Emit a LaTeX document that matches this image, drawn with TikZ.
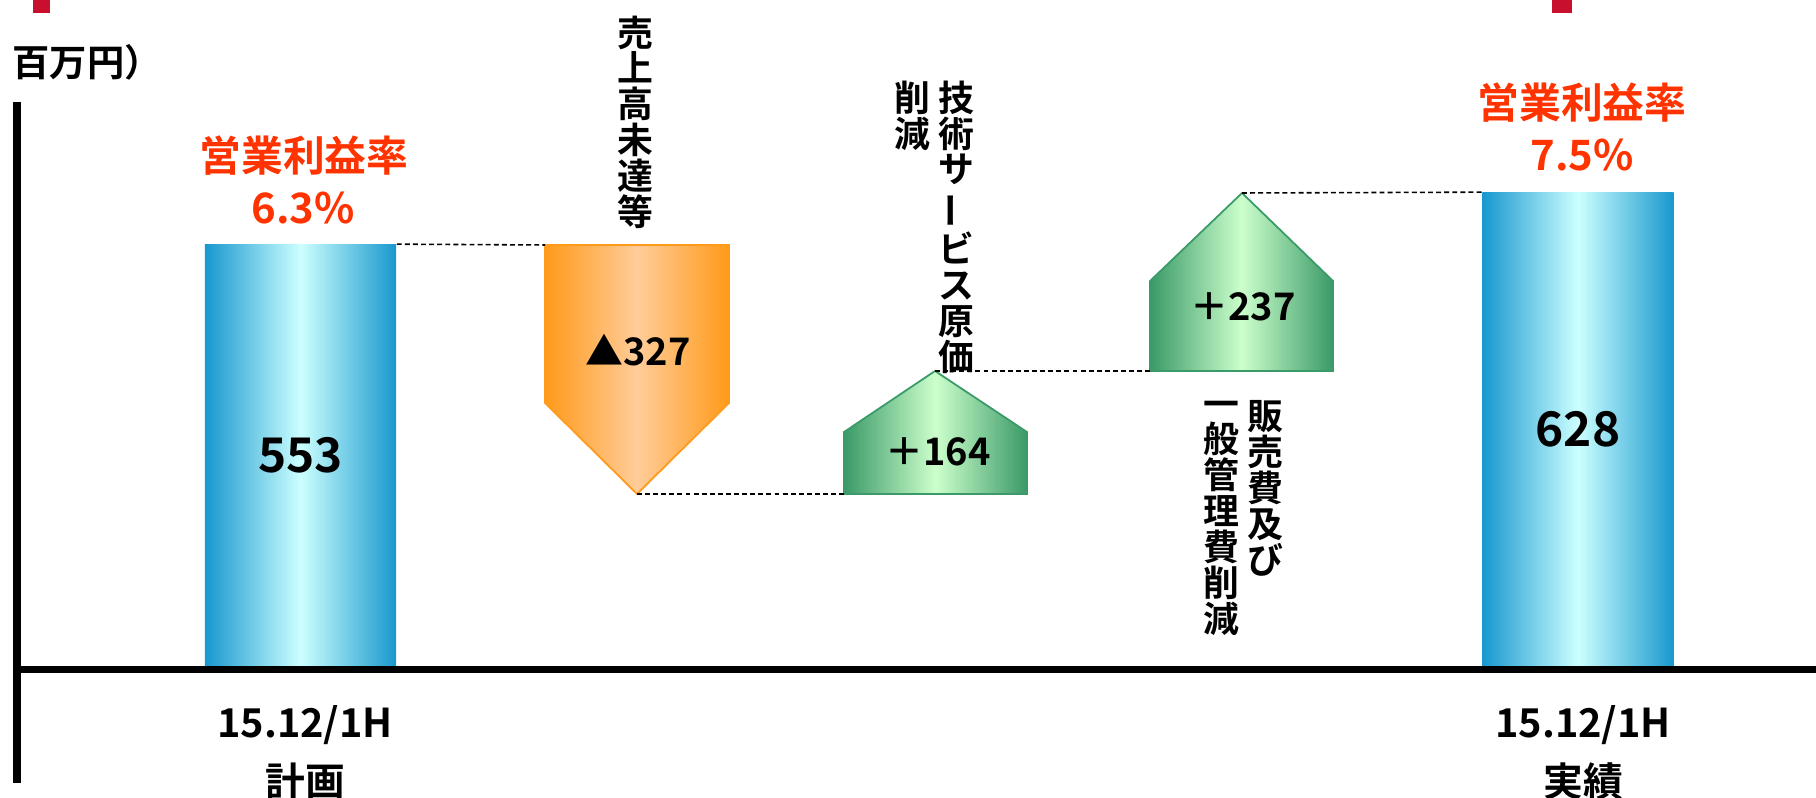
\documentclass[tikz,border=0pt]{standalone}
\usepackage{fontspec}
\usepackage{graphicx}
\setmainfont{Noto Sans CJK JP}[BoldFont={Noto Sans CJK JP Bold}]
\usetikzlibrary{positioning}
\definecolor{ratiored}{HTML}{FF3300}
\definecolor{tabred}{HTML}{C8102E}
\definecolor{barblue}{HTML}{1898CE}
\definecolor{barlight}{HTML}{CCFFFF}
\definecolor{fallorange}{HTML}{FF9A1A}
\definecolor{falllight}{HTML}{FFCC99}
\definecolor{gaingreen}{HTML}{3A9A68}
\definecolor{gainlight}{HTML}{CCFFCC}

\begin{document}
\begin{tikzpicture}[x=0.01cm, y=-0.01cm,
  bar/.style={inner sep=0pt, minimum width=1.91cm, left color=barblue, right color=barblue, middle color=barlight, font=\fontsize{13.6pt}{13.6pt}\selectfont\bfseries},
  fall/.style={draw=fallorange, line width=0.5pt, left color=fallorange, right color=fallorange, middle color=falllight},
  gain/.style={draw=gaingreen, line width=0.5pt, left color=gaingreen, right color=gaingreen, middle color=gainlight},
  delta/.style={inner sep=0pt, font=\fontsize{10.8pt}{10.8pt}\selectfont\bfseries},
  ratio/.style={inner sep=0pt, text=ratiored, font=\fontsize{11.9pt}{11.9pt}\selectfont\bfseries},
  vlabel/.style={inner sep=0pt, anchor=north, align=center, font=\fontsize{10.2pt}{10.2pt}\selectfont\bfseries},
  period/.style={inner sep=0pt, font=\fontsize{11.3pt}{11.3pt}\selectfont\bfseries},
  level/.style={draw=black, line width=0.45pt, dash pattern=on 1.4pt off 0.9pt},
  axis/.style={draw=black, line width=2pt}]
  \useasboundingbox (0,0) rectangle (1816,798);

  % red tabs at the top edge
  \fill[tabred] (33,0) rectangle (50,13);
  \fill[tabred] (1552,0) rectangle (1572,13);

  \node[inner sep=0pt, anchor=west, font=\fontsize{10.6pt}{10.6pt}\selectfont\bfseries] (unit) at (12,62) {百万円）};

  % bars
  \node[bar, minimum height=4.21cm] (plan) at (300.5,455.5) {553};
  \node[bar, minimum height=4.73cm] (result) at (1578,429.5) {628};

  % steps
  \coordinate (sfnw) at (545,245);
  \coordinate (sfne) at (729,245);
  \coordinate (sftip) at (637,494);
  \path[fall] (sfnw) -- (sfne) -- (729,403) -- (sftip) -- (545,403) -- cycle;
  \node[delta] (salesfall) at (638,350) {▲327};

  \coordinate (tcsw) at (844,494);
  \coordinate (tctip) at (935,371);
  \path[gain] (tcsw) -- (844,432) -- (tctip) -- (1027,432) -- (1027,494) -- cycle;
  \node[delta] (techgain) at (938,452) {＋164};

  \coordinate (sgsw) at (1150,371);
  \coordinate (sgtip) at (1242,193);
  \path[gain] (sgsw) -- (1150,281) -- (sgtip) -- (1333,281) -- (1333,371) -- cycle;
  \node[delta] (sgagain) at (1243,307) {＋237};

  % dashed levels
  \draw[level] (plan.north east) -- (sfnw);
  \draw[level] (sftip) -- (tcsw);
  \draw[level] (tctip) -- (sgsw);
  \draw[level] (sgtip) -- (result.north west);

  % vertical captions
  \node[vlabel] (salescap) at (635,15) {売\\上\\高\\未\\達\\等};
  \node[vlabel] (techcap) at (956,80) {技\\術\\サ\\\rotatebox[origin=c]{90}{ー}\\ビ\\ス\\原\\価};
  \node[vlabel] (techcut) at (912,80) {削\\減};
  \node[vlabel] (sgacap) at (1265,400) {販\\売\\費\\及\\び};
  \node[vlabel] (sgacut) at (1221,400) {一\\般\\管\\理\\費\\削\\減};

  % margins
  \node[ratio] (planname) at (304,156) {営業利益率};
  \node[ratio] (planpct) at (303,208) {6.3\%};
  \node[ratio] (resultname) at (1582,103) {営業利益率};
  \node[ratio] (resultpct) at (1582,155) {7.5\%};

  % axes
  \draw[axis] (17,102) -- (17,783);
  \draw[axis] (13,669.5) -- (1816,669.5);

  \node[period] (planterm) at (305,725) {15.12/1H};
  \node[period] (plankind) at (305,781) {計画};
  \node[period] (resultterm) at (1583,725) {15.12/1H};
  \node[period] (resultkind) at (1583,781) {実績};
\end{tikzpicture}
\end{document}
